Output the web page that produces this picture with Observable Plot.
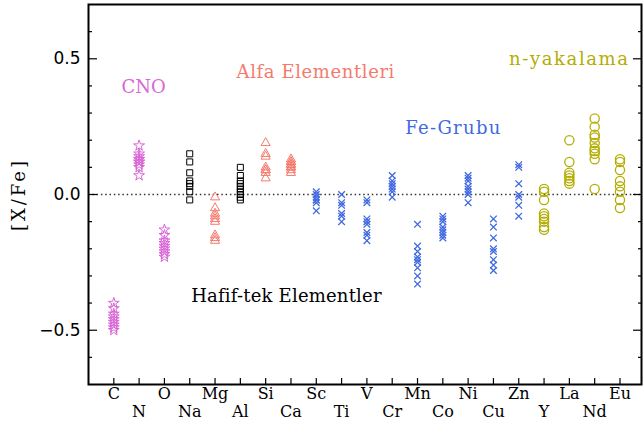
<!DOCTYPE html>
<html>
<head>
<meta charset="utf-8">
<script src="https://cdn.jsdelivr.net/npm/d3@7"></script>
<script src="https://cdn.jsdelivr.net/npm/@observablehq/plot@0.6"></script>
<style>
  body { margin: 0; background: #fff; }
  svg { overflow: visible; }
</style>
</head>
<body>
<div id="chart"></div>
<script>
const elements = ["C","N","O","Na","Mg","Al","Si","Ca","Sc","Ti","V","Cr","Mn","Co","Ni","Cu","Zn","Y","La","Nd","Eu"];

const cnoGroup   = ["C","N","O"];
const lightOdd   = ["Na","Al"];
const alphaGroup = ["Mg","Si","Ca"];
const feGroup    = ["Sc","Ti","V","Cr","Mn","Co","Ni","Cu","Zn"];
const nCapture   = ["Y","La","Nd","Eu"];

const vC  = [-0.40, -0.42, -0.44, -0.45, -0.46, -0.47, -0.48, -0.49, -0.50];
const vN  = [0.18, 0.15, 0.14, 0.13, 0.13, 0.12, 0.12, 0.11, 0.10, 0.07];
const vO  = [-0.13, -0.15, -0.17, -0.18, -0.19, -0.20, -0.21, -0.22, -0.23];
const vNa = [0.15, 0.12, 0.08, 0.05, 0.04, 0.03, 0.01, -0.02];
const vMg = [-0.01, -0.05, -0.07, -0.08, -0.09, -0.10, -0.15, -0.16, -0.17];
const vAl = [0.10, 0.07, 0.05, 0.04, 0.03, 0.02, 0.01, 0.00, -0.01, -0.02];
const vSi = [0.19, 0.15, 0.14, 0.10, 0.09, 0.09, 0.08, 0.06];
const vCa = [0.13, 0.12, 0.12, 0.11, 0.11, 0.10, 0.10, 0.09, 0.08];
const vSc = [0.01, 0.00, -0.01, -0.02, -0.02, -0.03, -0.06];
const vTi = [0.00, -0.03, -0.04, -0.07, -0.08, -0.10];
const vV  = [-0.02, -0.03, -0.09, -0.10, -0.11, -0.14, -0.15, -0.17];
const vCr = [0.07, 0.05, 0.04, 0.03, 0.02, 0.01, -0.01];
const vMn = [-0.11, -0.19, -0.21, -0.23, -0.24, -0.25, -0.27, -0.30, -0.33];
const vCo = [-0.08, -0.09, -0.10, -0.12, -0.13, -0.14, -0.15, -0.16];
const vNi = [0.07, 0.06, 0.05, 0.03, 0.02, 0.01, 0.00, -0.03];
const vCu = [-0.09, -0.12, -0.16, -0.20, -0.21, -0.24, -0.26, -0.28];
const vZn = [0.11, 0.10, 0.04, 0.00, -0.01, -0.04, -0.08];
const vY  = [0.02, 0.01, -0.02, -0.07, -0.08, -0.09, -0.10, -0.12, -0.13];
const vLa = [0.20, 0.12, 0.08, 0.07, 0.06, 0.05, 0.04];
const vNd = [0.28, 0.25, 0.22, 0.21, 0.19, 0.17, 0.16, 0.15, 0.13, 0.02];
const vEu = [0.13, 0.12, 0.09, 0.05, 0.03, 0.01, -0.02, -0.05];

const seriesValues = [vC, vN, vO, vNa, vMg, vAl, vSi, vCa, vSc, vTi, vV, vCr, vMn, vCo, vNi, vCu, vZn, vY, vLa, vNd, vEu];

const yMajorTicks = [-0.5, 0, 0.5];
const yMinorTicks = [-0.6, -0.4, -0.3, -0.2, -0.1, 0.1, 0.2, 0.3, 0.4, 0.6];

const groupLabels = [
  {text: "CNO", x: 2.18, y: 0.395, color: "#d966d6"},
  {text: "Alfa Elementleri", x: 8.98, y: 0.452, color: "#f57a6d"},
  {text: "Fe-Grubu", x: 14.42, y: 0.243, color: "#4169e1"},
  {text: "n-yakalama", x: 19.0, y: 0.50, color: "#b4ad00"},
  {text: "Hafif-tek Elementler", x: 7.82, y: -0.375, color: "#000000"}
];
const yLabel = "[X/Fe]";

const rows = [];
elements.forEach((el, i) => {
  seriesValues[i].forEach(v => rows.push({el, pos: i + 1, v}));
});
const pick = g => rows.filter(r => g.includes(r.el));

const serif = "DejaVu Serif";
const chart = Plot.plot({
  width: 643,
  height: 423,
  marginLeft: 88,
  marginRight: 2,
  marginTop: 4,
  marginBottom: 39,
  x: {domain: [0, 21.85], axis: null},
  y: {domain: [-0.7, 0.7], axis: null},
  marks: [
    Plot.ruleY([0], {stroke: "#333", strokeWidth: 1.5, strokeDasharray: "1.5,2.8"}),
    Plot.axisY({anchor: "left", ticks: yMajorTicks, tickFormat: d3.format(".1f"), tickSize: 0, tickPadding: 8,
      fontSize: 17, fontFamily: "DejaVu Sans", label: null}),
    Plot.axisY({anchor: "left", ticks: yMajorTicks, tickSize: -9, text: null, label: null, strokeWidth: 1.2}),
    Plot.axisY({anchor: "left", ticks: yMinorTicks, tickSize: -4, text: null, label: null, strokeWidth: 1.2}),
    Plot.axisY({anchor: "right", ticks: yMajorTicks, tickSize: -9, text: null, label: null, strokeWidth: 1.2}),
    Plot.axisY({anchor: "right", ticks: yMinorTicks, tickSize: -4, text: null, label: null, strokeWidth: 1.2}),
    Plot.axisX({anchor: "bottom", ticks: d3.range(1, elements.length + 1), tickSize: -6, text: null, label: null, strokeWidth: 1.2}),
    Plot.text(elements, {filter: (d, i) => i % 2 === 0, x: d => elements.indexOf(d) + 1, text: d => d,
      frameAnchor: "bottom", lineAnchor: "top", dy: 3, fontSize: 16, fontFamily: serif, fill: "#000"}),
    Plot.text(elements, {filter: (d, i) => i % 2 === 1, x: d => elements.indexOf(d) + 1, text: d => d,
      frameAnchor: "bottom", lineAnchor: "top", dy: 21, fontSize: 16, fontFamily: serif, fill: "#000"}),
    Plot.text([yLabel], {frameAnchor: "left", textAnchor: "middle", rotate: -90, dx: -69, fontSize: 18, fontFamily: serif,
      fill: "#000"}),
    Plot.dot(pick(cnoGroup), {x: "pos", y: "v", symbol: "star", r: 3.4, stroke: "#d966d6", strokeWidth: 1}),
    Plot.dot(pick(lightOdd), {x: "pos", y: "v", symbol: "square", r: 3.4, stroke: "#000", strokeWidth: 1}),
    Plot.dot(pick(alphaGroup), {x: "pos", y: "v", symbol: "triangle", r: 3.4, stroke: "#f57a6d", strokeWidth: 1}),
    Plot.dot(pick(feGroup), {x: "pos", y: "v", symbol: "times", r: 3.1, stroke: "#4169e1", strokeWidth: 1.3}),
    Plot.dot(pick(nCapture), {x: "pos", y: "v", symbol: "circle", r: 4.6, stroke: "#b4ad00", strokeWidth: 1.3}),
    Plot.text(groupLabels, {x: "x", y: "y", text: "text", fill: "color", fontSize: 18, fontFamily: serif}),
    Plot.frame({stroke: "#000", strokeWidth: 2})
  ]
});

// letter spacing to mimic the wide plotting font
const spacing = new Map([
  ["Alfa Elementleri", "0.6px"],
  ["Fe-Grubu", "1.3px"],
  ["n-yakalama", "1.6px"],
  ["Hafif-tek Elementler", "0.2px"],
  [yLabel, "3px"]
]);
d3.select(chart).selectAll("text").each(function() {
  const s = spacing.get(this.textContent);
  if (s) this.style.letterSpacing = s;
});
document.getElementById("chart").appendChild(chart);
</script>
</body>
</html>
